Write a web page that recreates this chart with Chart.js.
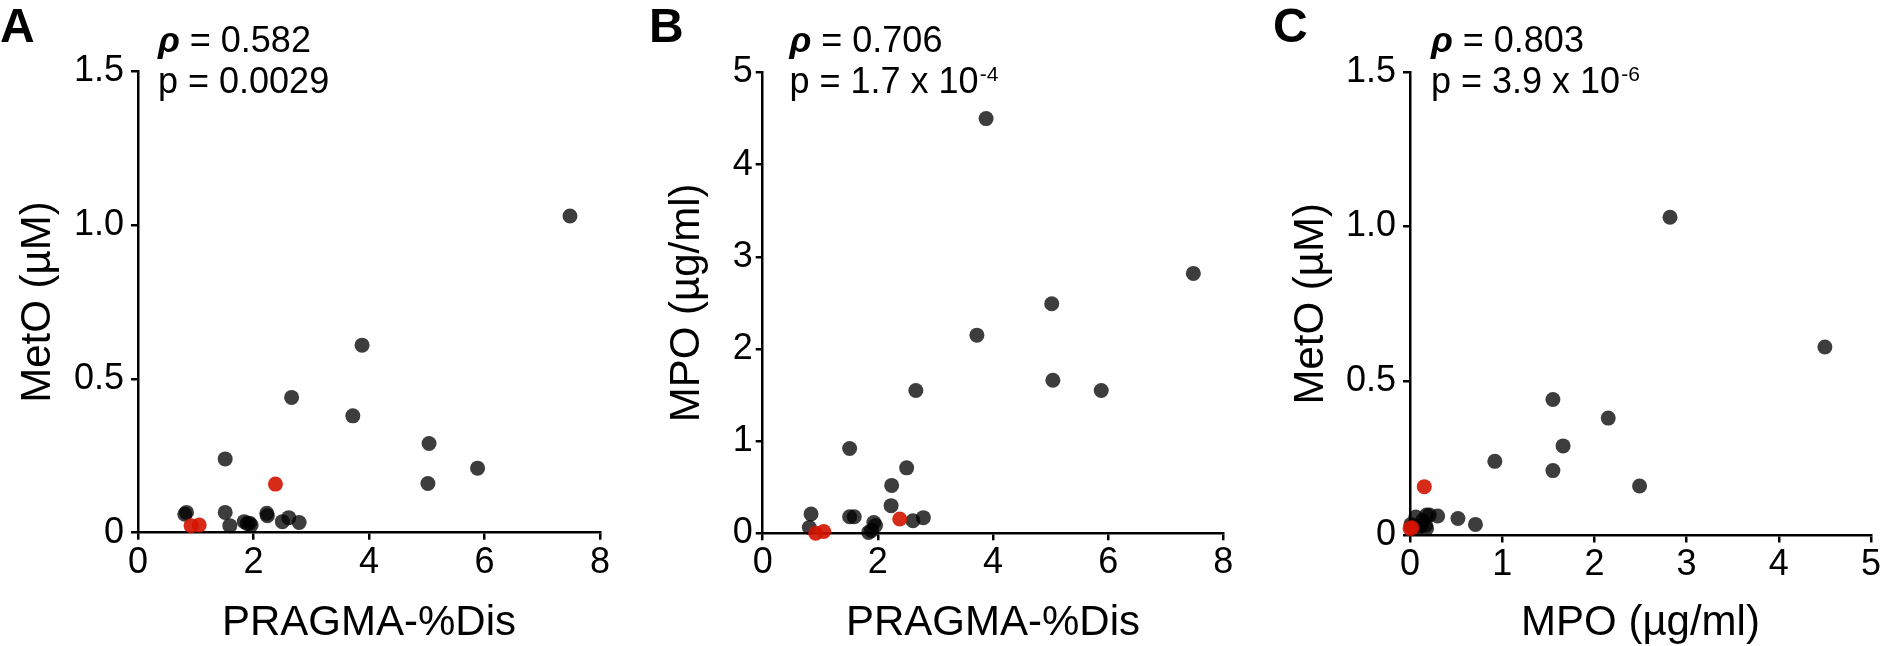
<!DOCTYPE html>
<html>
<head>
<meta charset="utf-8">
<script src="https://cdn.jsdelivr.net/npm/chart.js@4.4.1/dist/chart.umd.min.js"></script>
<style>
  html, body { margin: 0; padding: 0; background: #fff; overflow: hidden; }
  #wrap { position: relative; width: 1880px; height: 646px; }
  canvas { position: absolute; top: 0; }
</style>
</head>
<body>
<div id="wrap">
  <canvas id="chart-a" width="620" height="646" style="left:0px"></canvas>
  <canvas id="chart-b" width="630" height="646" style="left:620px"></canvas>
  <canvas id="chart-c" width="630" height="646" style="left:1250px"></canvas>
</div>
<script>
// one entry per subject, same order in every array
const pragmaDis = [7.48, 3.88, 2.66, 3.72, 5.04, 1.51, 5.88, 5.02, 2.50, 2.24, 2.23, 0.84, 0.81, 1.51, 1.59, 1.84, 1.89, 1.93, 1.96, 2.61, 2.79];
const metO      = [1.03, 0.61, 0.44, 0.38, 0.29, 0.24, 0.21, 0.16, 0.036, 0.055, 0.063, 0.066, 0.060, 0.066, 0.023, 0.036, 0.030, 0.031, 0.025, 0.049, 0.033];
const mpo       = [2.82, 4.50, 1.55, 2.15, 1.66, 0.92, 1.55, 2.49, 0.71, 0.52, 0.30, 0.21, 0.063, 0.18, 0.18, 0.01, 0.03, 0.117, 0.085, 0.136, 0.17];

// highlighted subjects (red)
const pragmaDisRed = [2.38, 0.92, 1.06];
const metORed      = [0.158, 0.023, 0.025];
const mpoRed       = [0.155, 0.0, 0.02];

// tick labels
const pragmaTicks = [0, 2, 4, 6, 8];
const metOTicks   = [0, 0.5, 1.0, 1.5];
const mpoTicks    = [0, 1, 2, 3, 4, 5];

const FONT = '"Liberation Sans", Arial, sans-serif';
const GREY = "rgba(0, 0, 0, 0.76)";
const RED = "rgba(211, 20, 0, 0.9)";
const R = 7.5;

Chart.defaults.font.family = FONT;
Chart.defaults.color = "#000";

const pairs = (xs, ys) => xs.map((x, i) => ({ x: x, y: ys[i] }));

const panelText = {
    id: "panelText",
    afterDraw(chart, args, o) {
        const c = chart.ctx;
        c.save();
        c.fillStyle = "#000";
        c.textAlign = "left";
        c.textBaseline = "alphabetic";
        c.font = "bold 48px " + FONT;
        c.fillText(o.letter, o.letterX, 42);

        c.font = "italic bold 36px " + FONT;
        c.fillText("\u03c1", o.textX, 51.5);
        let w = c.measureText("\u03c1").width;
        c.font = "36px " + FONT;
        c.fillText(" = " + o.rho, o.textX + w, 51.5);
        c.fillText(o.p, o.textX, 93);
        if (o.exp) {
            w = c.measureText(o.p).width;
            c.font = "21px " + FONT;
            c.fillText(o.exp, o.textX + w + 1, 81);
        }
        c.restore();
    },
};

function axis(ticks, fmt, title, opts) {
    return {
        type: "linear",
        min: ticks[0],
        max: ticks[ticks.length - 1],
        afterBuildTicks: (s) => {
            s.ticks = ticks.map((v) => ({ value: v }));
        },
        border: { display: true, color: "#000", width: 2.5 },
        grid: {
            drawOnChartArea: false,
            drawTicks: true,
            tickLength: 7,
            color: "#000",
            lineWidth: 2.5,
        },
        ticks: {
            color: "#000",
            font: { size: 36, lineHeight: 1 },
            padding: opts.tickPad,
            callback: fmt,
        },
        title: {
            display: true,
            text: title,
            color: "#000",
            font: { size: 42, lineHeight: 1 },
            padding: opts.titlePad,
        },
        afterFit: opts.afterFit,
    };
}

const fmtDec = (v) => (v === 0 ? "0" : v.toFixed(1));
const fmtInt = (v) => String(v);

function makePanel(id, p) {
    return new Chart(document.getElementById(id), {
        type: "scatter",
        data: {
            datasets: [
                {
                    data: pairs(p.redX, p.redY),
                    backgroundColor: RED,
                    pointRadius: R,
                    pointBorderWidth: 0,
                    clip: false,
                },
                {
                    data: pairs(p.greyX, p.greyY),
                    backgroundColor: GREY,
                    pointRadius: R,
                    pointBorderWidth: 0,
                    clip: false,
                },
            ],
        },
        options: {
            responsive: false,
            animation: false,
            devicePixelRatio: 1,
            layout: { padding: { left: 0, top: p.top, right: p.right, bottom: 0 } },
            plugins: {
                legend: { display: false },
                tooltip: { enabled: false },
                panelText: p.text,
            },
            scales: {
                x: axis(p.xTicks, p.xFmt, p.xTitle, {
                    tickPad: 5,
                    titlePad: { bottom: 2 },
                    afterFit: (s) => {
                        s.height = p.xHeight;
                        s.paddingLeft = 0;
                        s.paddingRight = 0;
                    },
                }),
                y: axis(p.yTicks, p.yFmt, p.yTitle, {
                    tickPad: p.yTickPad,
                    titlePad: { top: p.yTitlePad },
                    afterFit: (s) => {
                        s.width = p.yWidth;
                    },
                }),
            },
        },
        plugins: [panelText],
    });
}

makePanel("chart-a", {
    greyX: pragmaDis, greyY: metO, redX: pragmaDisRed, redY: metORed,
    xTicks: pragmaTicks, yTicks: metOTicks, xFmt: fmtInt, yFmt: fmtDec,
    xTitle: "PRAGMA-%Dis", yTitle: "MetO (\u00b5M)",
    top: 71.5, right: 20, yWidth: 138, xHeight: 113.3, yTickPad: 7, yTitlePad: 17,
    text: { letter: "A", letterX: 0, textX: 158, rho: "0.582", p: "p = 0.0029" },
});

makePanel("chart-b", {
    greyX: pragmaDis, greyY: mpo, redX: pragmaDisRed, redY: mpoRed,
    xTicks: pragmaTicks, yTicks: mpoTicks, xFmt: fmtInt, yFmt: fmtInt,
    xTitle: "PRAGMA-%Dis", yTitle: "MPO (\u00b5g/ml)",
    top: 72.5, right: 26.7, yWidth: 142.7, xHeight: 112.7, yTickPad: 3, yTitlePad: 46,
    text: { letter: "B", letterX: 29, textX: 169.5, rho: "0.706", p: "p = 1.7 x 10", exp: "-4" },
});

makePanel("chart-c", {
    greyX: mpo, greyY: metO, redX: mpoRed, redY: metORed,
    xTicks: mpoTicks, yTicks: metOTicks, xFmt: fmtInt, yFmt: fmtDec,
    xTitle: "MPO (\u00b5g/ml)", yTitle: "MetO (\u00b5M)",
    top: 72, right: 9, yWidth: 160, xHeight: 110.5, yTickPad: 7, yTitlePad: 40,
    text: { letter: "C", letterX: 23, textX: 181, rho: "0.803", p: "p = 3.9 x 10", exp: "-6" },
});
</script>
</body>
</html>
